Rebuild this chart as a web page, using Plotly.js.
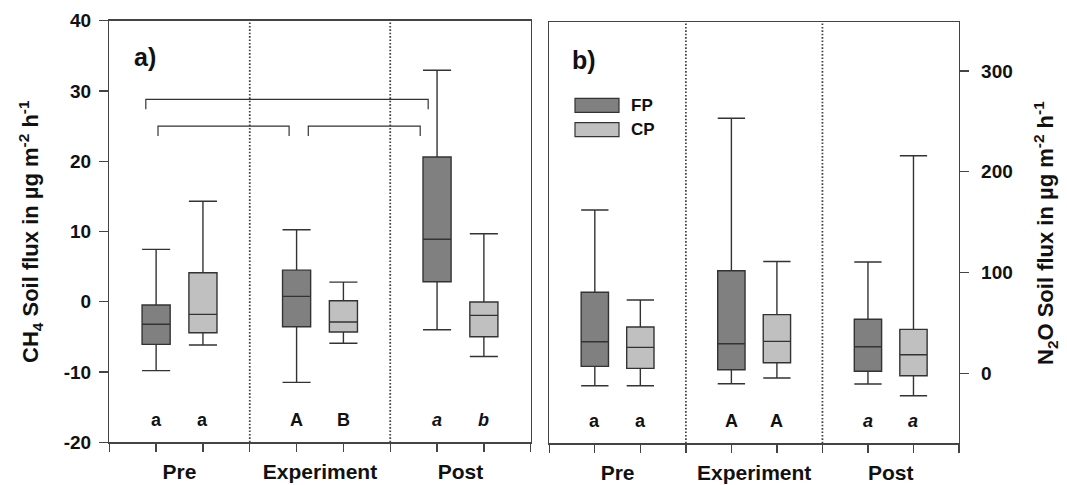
<!DOCTYPE html>
<html>
<head>
<meta charset="utf-8">
<script src="https://cdn.plot.ly/plotly-3.0.1.min.js"></script>
<style>
  html, body { margin: 0; padding: 0; background: #fff; }
  #chart { width: 1067px; height: 485px; }
</style>
</head>
<body>
<div id="chart"></div>
<script>
// Sampling periods and treatments
const periods = ['Pre', 'Experiment', 'Post'];
const treatments = ['FP', 'CP'];

// CH4 soil flux (µg m-2 h-1): box statistics per period
const ch4FP_upper  = [7.45, 10.24, 32.94];
const ch4FP_q3     = [-0.47, 4.5, 20.6];
const ch4FP_median = [-3.2, 0.77, 8.9];
const ch4FP_q1     = [-6.06, -3.55, 2.84];
const ch4FP_lower  = [-9.8, -11.47, -3.98];

const ch4CP_upper  = [14.3, 2.8, 9.67];
const ch4CP_q3     = [4.13, 0.14, -0.04];
const ch4CP_median = [-1.8, -2.89, -1.94];
const ch4CP_q1     = [-4.4, -4.3, -4.97];
const ch4CP_lower  = [-6.16, -5.9, -7.8];

// N2O soil flux (µg m-2 h-1): box statistics per period
const n2oFP_upper  = [162, 253, 110.4];
const n2oFP_q3     = [80.4, 101.8, 53.6];
const n2oFP_median = [31.4, 29.4, 26.4];
const n2oFP_q1     = [6.9, 3.6, 2.0];
const n2oFP_lower  = [-12.3, -10.3, -10.6];

const n2oCP_upper  = [72.7, 111, 215.9];
const n2oCP_q3     = [45.9, 58.2, 43.6];
const n2oCP_median = [25.8, 31.7, 18.5];
const n2oCP_q1     = [4.96, 10.5, -2.4];
const n2oCP_lower  = [-12.3, -4.7, -22.2];

// Significance letters (FP, CP for each period)
const ch4Letters = ['a', 'a', 'A', 'B', 'a', 'b'];
const n2oLetters = ['a', 'a', 'A', 'A', 'a', 'a'];

// Brackets linking periods in the CH4 panel: [x start, x end, y level]
const ch4Brackets = [
  [0.78, 6.81, 28.8],
  [1.04, 3.84, 25.0],
  [4.25, 6.64, 25.0]
];

// Axis ticks and titles
const ch4Ticks = [-20, -10, 0, 10, 20, 30, 40];
const ch4TickText = ['-20', '-10', '0', '10', '20', '30', '40'];
const n2oTicks = [0, 100, 200, 300];
const n2oTickText = ['0', '100', '200', '300'];
const ch4Title = 'CH<sub>4</sub> Soil flux in µg m<sup>-2</sup> h<sup>-1</sup>';
const n2oTitle = 'N<sub>2</sub>O Soil flux in µg m<sup>-2</sup> h<sup>-1</sup>';

// ---- layout helpers ----
const FONT = 'Liberation Sans, Arial, Helvetica, sans-serif';
const AXIS_COLOR = '#444';
const FILL = { FP: '#808080', CP: '#c0c0c0' };
const LINE = '#333';
const W = 1067, H = 485;
const px = v => v / W;          // horizontal pixel -> paper fraction
const py = v => 1 - v / H;      // vertical pixel (from top) -> paper fraction

// each period occupies three slots: FP, CP, gap
const slot = (p, t) => p * 3 + 1 + t;
const xFP = periods.map((_, i) => slot(i, 0));
const xCP = periods.map((_, i) => slot(i, 1));
const labelPos = periods.map((_, i) => i * 3 + 1.5);
const dividers = [3, 6];

function boxTrace(name, xs, lower, q1, med, q3, upper, xa, ya) {
  return {
    type: 'box', name: name, x: xs,
    lowerfence: lower, q1: q1, median: med, q3: q3, upperfence: upper,
    xaxis: xa, yaxis: ya,
    width: 0.6, whiskerwidth: 1,
    fillcolor: FILL[name],
    line: { color: LINE, width: 1.4 },
    boxpoints: false, hoverinfo: 'skip', showlegend: false
  };
}

const data = [
  boxTrace('FP', xFP, ch4FP_lower, ch4FP_q1, ch4FP_median, ch4FP_q3, ch4FP_upper, 'x', 'y'),
  boxTrace('CP', xCP, ch4CP_lower, ch4CP_q1, ch4CP_median, ch4CP_q3, ch4CP_upper, 'x', 'y'),
  boxTrace('FP', xFP, n2oFP_lower, n2oFP_q1, n2oFP_median, n2oFP_q3, n2oFP_upper, 'x2', 'y2'),
  boxTrace('CP', xCP, n2oCP_lower, n2oCP_q1, n2oCP_median, n2oCP_q3, n2oCP_upper, 'x2', 'y2')
];

function xAxis(domain, anchor) {
  return {
    domain: domain, anchor: anchor, range: [0, 9],
    showline: true, linecolor: AXIS_COLOR, linewidth: 1.3, mirror: true,
    showgrid: false, zeroline: false,
    tickmode: 'array', tickvals: labelPos, ticktext: periods, ticks: '',
    ticklabelstandoff: 10,
    tickfont: { family: FONT, size: 21, color: '#111', weight: 'bold' },
    minor: { tickmode: 'array', tickvals: [0, 1, 2, 3, 4, 5, 6, 7, 8, 9],
             ticks: 'outside', ticklen: 8, tickwidth: 1.3, tickcolor: AXIS_COLOR, showgrid: false },
    fixedrange: true
  };
}

const titleFont = { family: FONT, size: 22, color: '#111', weight: 'bold' };
const tickFont = { family: FONT, size: 19, color: '#111', weight: 'bold' };

const layout = {
  width: W, height: H,
  margin: { l: 0, r: 0, t: 0, b: 0 },
  paper_bgcolor: '#fff', plot_bgcolor: '#fff',
  showlegend: false,
  xaxis: xAxis([px(109.3), px(530.7)], 'y'),
  xaxis2: xAxis([px(549.3), px(959)], 'y2'),
  yaxis: {
    domain: [py(442.3), py(20.7)], anchor: 'x', range: [-20, 40],
    tickmode: 'array', tickvals: ch4Ticks, ticktext: ch4TickText,
    ticks: 'outside', ticklen: 9, tickwidth: 1.3, tickcolor: AXIS_COLOR,
    ticklabelstandoff: 4,
    showline: true, linecolor: AXIS_COLOR, linewidth: 1.3, mirror: true,
    showgrid: false, zeroline: false, tickfont: tickFont,
    fixedrange: true
  },
  yaxis2: {
    domain: [py(443.3), py(22)], anchor: 'x2', side: 'right', range: [-69.4, 348.5],
    tickmode: 'array', tickvals: n2oTicks, ticktext: n2oTickText,
    ticks: 'outside', ticklen: 9, tickwidth: 1.3, tickcolor: AXIS_COLOR,
    ticklabelstandoff: 8,
    showline: true, linecolor: AXIS_COLOR, linewidth: 1.3, mirror: true,
    showgrid: false, zeroline: false, tickfont: tickFont,
    fixedrange: true
  },
  shapes: [],
  annotations: []
};

// rotated axis titles
layout.annotations.push(
  { xref: 'paper', yref: 'paper', x: px(30), y: py(232), text: ch4Title, textangle: -90,
    showarrow: false, xanchor: 'center', yanchor: 'middle', font: titleFont },
  { xref: 'paper', yref: 'paper', x: px(1045), y: py(233), text: n2oTitle, textangle: -90,
    showarrow: false, xanchor: 'center', yanchor: 'middle', font: titleFont }
);

// dotted period dividers in both panels
[['x', 'y'], ['x2', 'y2']].forEach(([xa, ya]) => {
  dividers.forEach(d => {
    layout.shapes.push({
      type: 'line', xref: xa, yref: ya + ' domain', x0: d, x1: d, y0: 0, y1: 1,
      line: { color: '#444', width: 1.8, dash: '1.6px,1.8px' }
    });
  });
});

// brackets (CH4 panel)
ch4Brackets.forEach(([a, b, y]) => {
  const drop = 1.4;
  layout.shapes.push({
    type: 'path', xref: 'x', yref: 'y',
    path: `M ${a},${y - drop} L ${a},${y} L ${b},${y} L ${b},${y - drop}`,
    line: { color: LINE, width: 1.2 }
  });
});

// significance letters
function letters(list, xa, ya, yVal) {
  list.forEach((txt, i) => {
    const p = Math.floor(i / 2), t = i % 2;
    layout.annotations.push({
      xref: xa, yref: ya, x: slot(p, t), y: yVal, text: txt, showarrow: false,
      xanchor: 'center', yanchor: 'middle',
      font: { family: FONT, size: 18, color: '#111', weight: 'bold',
              style: p === 2 ? 'italic' : 'normal' }
    });
  });
}
letters(ch4Letters, 'x', 'y', -16.8);
letters(n2oLetters, 'x2', 'y2', -47);

// panel labels
layout.annotations.push(
  { xref: 'paper', yref: 'paper', x: px(145), y: py(57), text: 'a)', showarrow: false,
    xanchor: 'center', yanchor: 'middle',
    font: { family: FONT, size: 25, color: '#111', weight: 'bold' } },
  { xref: 'paper', yref: 'paper', x: px(584), y: py(60), text: 'b)', showarrow: false,
    xanchor: 'center', yanchor: 'middle',
    font: { family: FONT, size: 25, color: '#111', weight: 'bold' } }
);

// legend swatches and labels
treatments.forEach((t, i) => {
  const top = 98.3 + i * 24.4, bottom = top + 14;
  layout.shapes.push({
    type: 'rect', xref: 'paper', yref: 'paper',
    x0: px(575), x1: px(619), y0: py(bottom), y1: py(top),
    fillcolor: FILL[t], line: { color: LINE, width: 1.2 }
  });
  layout.annotations.push({
    xref: 'paper', yref: 'paper', x: px(629), y: py(top + 7),
    xanchor: 'left', yanchor: 'middle', text: t, showarrow: false,
    font: { family: FONT, size: 17, color: '#111', weight: 'bold' }
  });
});

Plotly.newPlot('chart', data, layout, { staticPlot: true, displayModeBar: false });
</script>
</body>
</html>
